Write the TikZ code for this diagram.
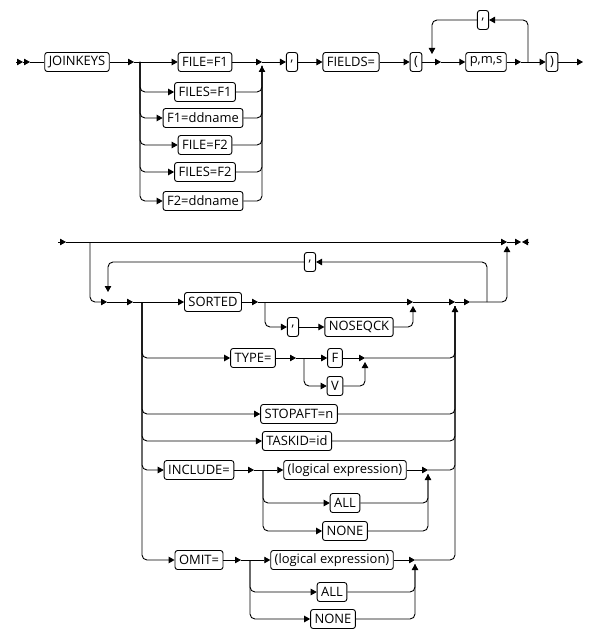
\documentclass[tikz,border=0pt]{standalone}
\usepackage{fontspec}
\setmainfont{Open Sans}
\usetikzlibrary{arrows.meta}
\begin{document}
\begin{tikzpicture}[x=1bp,y=-1bp,line width=0.9bp,
  box/.style={draw,rounded corners=2.5bp,inner xsep=4bp,inner ysep=0bp,minimum height=19bp,font=\fontsize{13}{15}\selectfont},
  ar/.style={-{Triangle[length=6bp,width=6.5bp]}},
  rc/.style={rounded corners=5bp}]
\useasboundingbox (0,0) rectangle (611,640);
% ---------- row 1 ----------
\node[box] (jk) at (77,62) {JOINKEYS};
\coordinate (s0) at (16,62); \coordinate (s1) at (23,62); \coordinate (s2) at (30,62);
\draw[ar] (s0) -- (s1); \draw[ar] (s1) -- (s2); \draw (s2) -- (jk.west);
\coordinate (a1) at (134,62); \coordinate (b1) at (140,62); \coordinate (m1) at (262,62); \coordinate (m1u) at (262,66);
\node[box] (f1) at (205,62) {FILE=F1};
\node[box] (fs1) at (205,92) {FILES=F1};
\node[box] (fd1) at (203,118) {F1=ddname};
\node[box] (f2) at (205,145) {FILE=F2};
\node[box] (fs2) at (205,172) {FILES=F2};
\node[box] (fd2) at (203,201) {F2=ddname};
\draw[ar] (jk.east) -- (a1);
\draw[ar] (a1) -- (f1.west);
\foreach \n in {fs1,fd1,f2,fs2,fd2} \draw[ar,rc] (b1) |- (\n.west);
\foreach \n in {fs1,fd1,f2,fs2} \draw[rc] (\n.east) -| (m1u);
\draw[ar,rc] (fd2.east) -| (m1u);
\draw[ar] (f1.east) -- (m1);
\node[box] (c1) at (292,62) {,};
\draw[ar] (m1) -- (c1.west);
\node[box] (fields) at (351,62) {FIELDS=};
\draw[ar] (c1.east) -- (fields.west);
\node[box] (lpar) at (416,62) {(};
\draw[ar] (fields.east) -- (lpar.west);
\coordinate (a2) at (441,62); \coordinate (l1d) at (432,54);
\coordinate (a3) at (521,62); \coordinate (r1) at (528,62);
\node[box] (pms) at (486,62) {p,m,s};
\node[box] (c2) at (483,20) {,};
\node[box] (rpar) at (552,62) {)};
\coordinate (e1) at (583,62);
\draw[ar] (lpar.east) -- (a2);
\draw[ar] (a2) -- (pms.west);
\draw[ar] (pms.east) -- (a3);
\draw[ar] (a3) -- (rpar.west);
\draw[ar,rc] (r1) |- (c2.east);
\draw[ar,rc] (c2.west) -| (l1d);
\draw[ar] (rpar.east) -- (e1);
% ---------- row 2 ----------
\coordinate (s3) at (58,242); \coordinate (s4) at (66,242);
\coordinate (t1) at (90,242); \coordinate (t2) at (507,242); \coordinate (t2u) at (507,246);
\coordinate (e2) at (521,242); \coordinate (e3) at (522,242); \coordinate (e4) at (529,242);
\draw[ar] (s3) -- (s4);
\draw[ar] (s4) -- (t2);
\draw[ar] (t2) -- (e2);
\draw[ar] (e4) -- (e3);
\coordinate (a4) at (107,302); \coordinate (a5) at (133,302); \coordinate (b2) at (142,302);
\coordinate (lp2) at (108,292);
\coordinate (M2) at (455,302); \coordinate (M2u) at (455,306);
\coordinate (a6) at (470,302); \coordinate (j2) at (487,302);
\node[box] (c3) at (310,262) {,};
\draw[ar,rc] (t1) |- (a4);
\draw[ar] (a4) -- (a5);
\draw[ar,rc] (c3.west) -| (lp2);
\draw[ar] (M2) -- (a6);
\draw[ar,rc] (a6) -| (t2u);
\draw[ar,rc] (j2) |- (c3.east);
% SORTED
\node[box] (sorted) at (213,302) {SORTED};
\coordinate (a7) at (258,302); \coordinate (b3) at (265,302); \coordinate (m3) at (413,302); \coordinate (m3u) at (413,306);
\node[box] (c4) at (293,327) {,};
\node[box] (nos) at (359,327) {NOSEQCK};
\draw[ar] (a5) -- (sorted.west);
\draw[ar] (sorted.east) -- (a7);
\draw[ar] (a7) -- (m3);
\draw[ar,rc] (b3) |- (c4.west);
\draw[ar] (c4.east) -- (nos.west);
\draw[ar,rc] (nos.east) -| (m3u);
\draw[ar] (m3) -- (M2);
% TYPE
\node[box] (type) at (253,358) {TYPE=};
\node[box] (tf) at (335,358) {F};
\node[box] (tv) at (335,386) {V};
\coordinate (a8) at (296,358); \coordinate (b4) at (304,358); \coordinate (m4) at (365,358); \coordinate (m4u) at (365,362);
\draw[ar,rc] (b2) |- (type.west);
\draw[ar] (type.east) -- (a8);
\draw[ar] (a8) -- (tf.west);
\draw[ar,rc] (b4) |- (tv.west);
\draw[ar] (tf.east) -- (m4);
\draw[ar,rc] (tv.east) -| (m4u);
\draw[rc] (m4) -| (M2u);
% STOPAFT / TASKID
\node[box] (stop) at (299,414) {STOPAFT=n};
\node[box] (task) at (297,441) {TASKID=id};
\draw[ar,rc] (b2) |- (stop.west);
\draw[ar,rc] (b2) |- (task.west);
\draw[rc] (stop.east) -| (M2u);
\draw[rc] (task.east) -| (M2u);
% INCLUDE
\node[box] (inc) at (199,470) {INCLUDE=};
\node[box] (le1) at (345,470) {(logical expression)};
\node[box] (all1) at (345,503) {ALL};
\node[box] (non1) at (345,531) {NONE};
\coordinate (a9) at (254,470); \coordinate (b5) at (263,470); \coordinate (m5) at (428,470); \coordinate (m5u) at (428,474);
\draw[ar,rc] (b2) |- (inc.west);
\draw[ar] (inc.east) -- (a9);
\draw[ar] (a9) -- (le1.west);
\draw[ar,rc] (b5) |- (all1.west);
\draw[ar,rc] (b5) |- (non1.west);
\draw[ar] (le1.east) -- (m5);
\draw[rc] (all1.east) -| (m5u);
\draw[ar,rc] (non1.east) -| (m5u);
\draw[rc] (m5) -| (M2u);
% OMIT
\node[box] (omit) at (199,560) {OMIT=};
\node[box] (le2) at (332,560) {(logical expression)};
\node[box] (all2) at (332,592) {ALL};
\node[box] (non2) at (333,619) {NONE};
\coordinate (a10) at (241,560); \coordinate (b6) at (250,560); \coordinate (m6) at (415,560); \coordinate (m6u) at (415,564);
\draw[ar,rc] (b2) |- (omit.west);
\draw[ar] (omit.east) -- (a10);
\draw[ar] (a10) -- (le2.west);
\draw[ar,rc] (b6) |- (all2.west);
\draw[ar,rc] (b6) |- (non2.west);
\draw[ar] (le2.east) -- (m6);
\draw[rc] (all2.east) -| (m6u);
\draw[ar,rc] (non2.east) -| (m6u);
\draw[ar,rc] (m6) -| (M2u);
\end{tikzpicture}
\end{document}
